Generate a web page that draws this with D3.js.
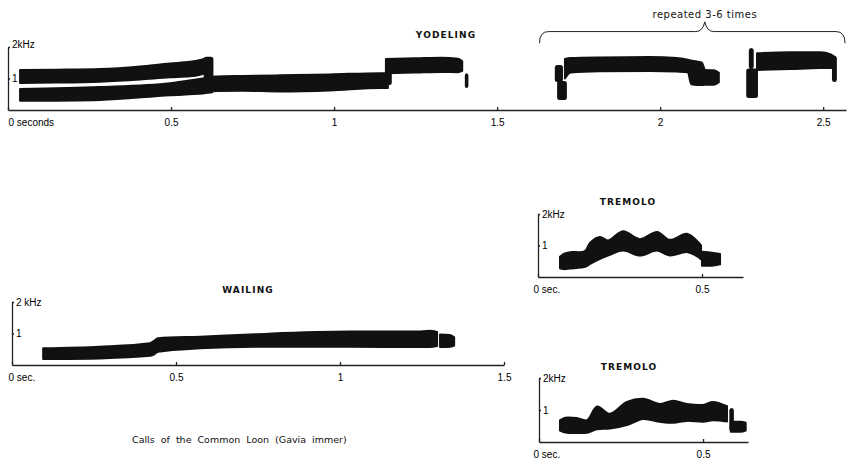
<!DOCTYPE html>
<html>
<head>
<meta charset="utf-8">
<script src="https://cdn.jsdelivr.net/npm/d3@7"></script>
<style>
  body { margin: 0; background: #fff; }
  svg { font-family: 'DejaVu Sans', sans-serif; }
  .axis path, .axis line { stroke: #222; stroke-width: 1.3; }
  .axis text { fill: #000; font-size: 10px; }
  .title { font-size: 9px; font-weight: bold; letter-spacing: 1.1px; fill: #111; }
</style>
</head>
<body>
<div id="chart"></div>
<script>
// every band is [seconds, low kHz, high kHz]; every blip is [t0, t1, low kHz, high kHz]
var yodelTicks = [0, 0.5, 1, 1.5, 2, 2.5]
var yodelTickLabels = ['0 seconds', '0.5', '1', '1.5', '2', '2.5']
var wailTicks = [0, 0.5, 1, 1.5]
var wailTickLabels = ['0 sec.', '0.5', '1', '1.5']
var tremTicks = [0, 0.5]
var tremTickLabels = ['0 sec.', '0.5']
var freqTicks = [1, 2]
var freqLabels = ['1', '2kHz']
var freqLabelsSpaced = ['1', '2 kHz']

var yodelUpper = [
  [0.037, 0.86, 1.27], [0.15, 0.87, 1.28], [0.282, 0.90, 1.30], [0.405, 0.97, 1.38],
  [0.497, 1.04, 1.48], [0.558, 1.07, 1.53], [0.589, 1.12, 1.59], [0.606, 1.17, 1.64]
]
var yodelLower = [
  [0.037, 0.29, 0.67], [0.282, 0.32, 0.73], [0.497, 0.47, 0.85], [0.598, 0.52, 1.00],
  [0.64, 0.60, 1.06], [0.72, 0.61, 1.08], [0.834, 0.59, 1.10], [0.987, 0.62, 1.13],
  [1.141, 0.70, 1.17], [1.165, 0.70, 1.17]
]
var yodelHigh = [
  [1.159, 1.17, 1.62], [1.25, 1.19, 1.64], [1.33, 1.21, 1.66], [1.38, 1.20, 1.63], [1.393, 1.24, 1.55]
]
var yodelCallA = [
  [1.708, 1.00, 1.62], [1.725, 1.19, 1.65], [1.815, 1.23, 1.67], [1.969, 1.24, 1.68],
  [2.05, 1.22, 1.65], [2.085, 1.20, 1.60], [2.095, 0.82, 1.57], [2.128, 0.79, 1.50],
  [2.138, 0.80, 1.27], [2.165, 0.80, 1.26], [2.18, 0.88, 1.18]
]
var yodelCallB = [
  [2.297, 1.27, 1.80], [2.40, 1.30, 1.83], [2.49, 1.33, 1.83], [2.525, 1.33, 1.76], [2.535, 1.36, 1.68]
]
var yodelBlips = [
  [0.600, 0.630, 0.52, 1.69], [1.159, 1.177, 0.79, 1.55], [1.401, 1.412, 0.70, 1.17],
  [1.677, 1.702, 0.89, 1.43], [1.684, 1.714, 0.32, 0.92],
  [2.272, 2.287, 1.30, 1.97], [2.264, 2.300, 0.38, 1.32], [2.527, 2.542, 0.89, 1.72]
]
var repeatSpan = [1.63, 2.137, 2.567]   // left end, tip, right end (seconds)
var repeatLevels = [2.12, 2.49, 2.80]   // ends, bar, tip (kHz)

var wail = [
  [0.095, 0.19, 0.53], [0.268, 0.21, 0.58], [0.421, 0.29, 0.69], [0.432, 0.33, 0.76],
  [0.445, 0.42, 0.85], [0.573, 0.53, 0.90], [0.747, 0.58, 0.98], [1.030, 0.58, 1.06],
  [1.235, 0.57, 1.06], [1.274, 0.57, 1.09], [1.296, 0.60, 1.05]
]
var wailTail = [[1.305, 0.57, 0.97], [1.335, 0.58, 0.95], [1.348, 0.62, 0.88]]

var tremolo1 = [
  [0.067, 0.28, 0.64], [0.080, 0.25, 0.74], [0.098, 0.27, 0.79], [0.143, 0.32, 0.82],
  [0.159, 0.42, 1.09], [0.189, 0.58, 1.27], [0.213, 0.68, 1.16], [0.259, 0.84, 1.45],
  [0.311, 0.68, 1.20], [0.363, 0.84, 1.43], [0.402, 0.68, 1.18], [0.454, 0.79, 1.37],
  [0.488, 0.64, 1.11], [0.497, 0.56, 1.00]
]
var tremolo1Tail = [[0.500, 0.36, 0.80], [0.53, 0.36, 0.77], [0.555, 0.40, 0.73]]

var tremolo2 = [
  [0.064, 0.36, 0.68], [0.080, 0.30, 0.76], [0.115, 0.28, 0.75], [0.146, 0.29, 0.68],
  [0.177, 0.40, 1.11], [0.216, 0.42, 0.88], [0.268, 0.53, 1.25], [0.317, 0.72, 1.35],
  [0.369, 0.63, 1.19], [0.409, 0.60, 1.29], [0.451, 0.66, 1.19], [0.500, 0.63, 1.16],
  [0.530, 0.68, 1.25], [0.573, 0.64, 1.12]
]
var tremolo2Tail = [[0.585, 0.32, 0.63], [0.615, 0.32, 0.63], [0.630, 0.36, 0.60]]
var tremolo2Blips = [[0.580, 0.594, 0.32, 1.06]]

var ink = '#111'
var svg = d3.select('#chart').append('svg').attr('width', 853).attr('height', 462)

function drawPanel (p) {
  var xs = d3.scaleLinear().domain([0, p.tMax]).range([p.left, p.right])
  var ys = d3.scaleLinear().domain([0, 2]).range([p.bottom, p.top])
  var g = svg.append('g')

  p.bands.forEach(function (b) {
    var area = d3.area()
      .x(function (d) { return xs(d[0]) })
      .y0(function (d) { return ys(d[1]) })
      .y1(function (d) { return ys(d[2]) })
      .curve(b.curve || d3.curveMonotoneX)
    g.append('path').datum(b.data).attr('d', area)
      .attr('fill', ink).attr('stroke', ink).attr('stroke-width', 2).attr('stroke-linejoin', 'round')
  })

  g.selectAll('rect.blip').data(p.blips || []).join('rect')
    .attr('class', 'blip')
    .attr('x', function (d) { return xs(d[0]) })
    .attr('width', function (d) { return xs(d[1]) - xs(d[0]) })
    .attr('y', function (d) { return ys(d[3]) })
    .attr('height', function (d) { return ys(d[2]) - ys(d[3]) })
    .attr('rx', 2.5).attr('fill', ink)

  var xAxis = g.append('g').attr('class', 'axis')
    .attr('transform', 'translate(0,' + p.bottom + ')')
    .call(d3.axisBottom(xs).tickValues(p.ticks)
      .tickFormat(function (d, i) { return p.tickLabels[i] })
      .tickSizeInner(-3).tickSizeOuter(0).tickPadding(9))
  xAxis.selectAll('.tick text').filter(function (d) { return d === 0 })
    .attr('text-anchor', 'start').attr('dx', p.zeroShift)

  var yAxis = g.append('g').attr('class', 'axis')
    .attr('transform', 'translate(' + p.left + ',0)')
    .call(d3.axisRight(ys).tickValues(freqTicks)
      .tickFormat(function (d, i) { return p.freqLabels[i] })
      .tickSizeInner(2).tickSizeOuter(0).tickPadding(2))
  yAxis.selectAll('.tick text').filter(function (d) { return d === 2 })
    .attr('dy', p.topLabelDy)

  if (p.title) {
    svg.append('text').attr('class', 'title')
      .attr('x', p.title[1]).attr('y', p.title[2])
      .attr('text-anchor', 'middle').text(p.title[0])
  }
  return { xs: xs, ys: ys }
}

var yodel = drawPanel({
  left: 8, right: 846, top: 47, bottom: 110, tMax: 2.57,
  ticks: yodelTicks, tickLabels: yodelTickLabels, freqLabels: freqLabels,
  zeroShift: 0, topLabelDy: '0',
  title: ['YODELING', 446, 38],
  bands: [{ data: yodelUpper }, { data: yodelLower }, { data: yodelHigh },
    { data: yodelCallA }, { data: yodelCallB }],
  blips: yodelBlips
})

// brace over the repeated part
var bx = repeatSpan.map(yodel.xs)
var by = repeatLevels.map(yodel.ys)
var brace = d3.path()
brace.moveTo(bx[0], by[0])
brace.quadraticCurveTo(bx[0], by[1], bx[0] + 9, by[1])
brace.lineTo(bx[1] - 9, by[1])
brace.quadraticCurveTo(bx[1] - 2, by[1], bx[1], by[2])
brace.quadraticCurveTo(bx[1] + 2, by[1], bx[1] + 9, by[1])
brace.lineTo(bx[2] - 9, by[1])
brace.quadraticCurveTo(bx[2], by[1], bx[2], by[0])
svg.append('path').attr('d', brace.toString())
  .attr('fill', 'none').attr('stroke', '#222').attr('stroke-width', 1)
svg.append('text').attr('x', bx[1]).attr('y', 18).attr('text-anchor', 'middle')
  .attr('font-size', 10).attr('fill', '#111').attr('letter-spacing', 0.5)
  .text('repeated 3-6 times')

drawPanel({
  left: 12, right: 504, top: 302, bottom: 365, tMax: 1.5,
  ticks: wailTicks, tickLabels: wailTickLabels, freqLabels: freqLabelsSpaced,
  zeroShift: -4, topLabelDy: '0.32em',
  title: ['WAILING', 248, 293],
  bands: [{ data: wail }, { data: wailTail }]
})

drawPanel({
  left: 538, right: 743, top: 214, bottom: 277, tMax: 0.625,
  ticks: tremTicks, tickLabels: tremTickLabels, freqLabels: freqLabels,
  zeroShift: -5, topLabelDy: '0.32em',
  title: ['TREMOLO', 628, 205],
  bands: [{ data: tremolo1, curve: d3.curveCatmullRom }, { data: tremolo1Tail }]
})

drawPanel({
  left: 539, right: 748, top: 378, bottom: 442, tMax: 0.637,
  ticks: tremTicks, tickLabels: tremTickLabels, freqLabels: freqLabels,
  zeroShift: -6, topLabelDy: '0.32em',
  title: ['TREMOLO', 629, 370],
  bands: [{ data: tremolo2, curve: d3.curveCatmullRom }, { data: tremolo2Tail }],
  blips: tremolo2Blips
})

svg.append('text').attr('x', 132).attr('y', 443)
  .attr('font-size', 9.5).attr('fill', '#111').attr('word-spacing', 3)
  .text('Calls of the Common Loon (Gavia immer)')
</script>
</body>
</html>
